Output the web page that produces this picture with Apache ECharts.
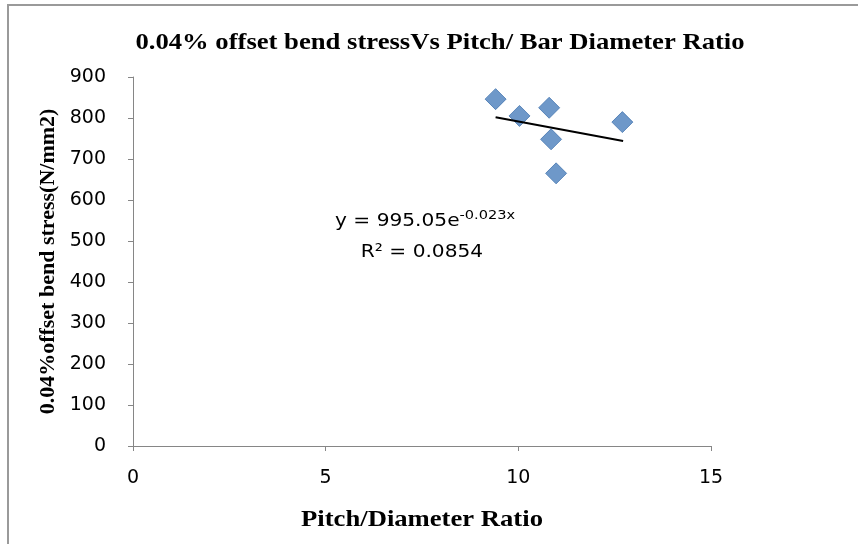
<!DOCTYPE html>
<html>
<head>
<meta charset="utf-8">
<script src="https://cdn.jsdelivr.net/npm/echarts@6/dist/echarts.min.js"></script>
<style>html,body{margin:0;padding:0;background:#fff}#c{width:858px;height:544px}</style>
</head>
<body>
<div id="c"></div>
<script>
const pitchRatio = [9.41, 10.03, 10.80, 10.85, 10.98, 12.70];
const bendStress = [846, 805, 825, 748, 665, 790];
const trendX = [9.41, 12.72];
const trendY = [801.7, 743.9];
const xTicks = [0, 5, 10, 15];
const yTicks = [0, 100, 200, 300, 400, 500, 600, 700, 800, 900];

const chart = echarts.init(document.getElementById('c'), null, {renderer: 'canvas'});
const axisCol = '#868686';
const labelFont = {fontFamily: 'DejaVu Sans', fontSize: 19, color: '#000'};
const serifBold = {fontFamily: 'Liberation Serif', fontWeight: 'bold', fill: '#000'};
chart.setOption({
  animation: false,
  backgroundColor: '#fff',
  grid: {left: 133, right: 147, top: 77, bottom: 98},
  xAxis: {
    type: 'value', min: xTicks[0], max: xTicks[xTicks.length-1], interval: 5,
    axisLine: {show: true, lineStyle: {color: axisCol, width: 1}},
    axisTick: {show: true, length: 5, lineStyle: {color: axisCol}},
    axisLabel: Object.assign({margin: 23}, labelFont),
    splitLine: {show: false}
  },
  yAxis: {
    type: 'value', min: yTicks[0], max: yTicks[yTicks.length-1], interval: 100,
    name: '0.04%offset bend stress(N/mm2)', nameLocation: 'middle', nameGap: 74,
    nameTextStyle: {fontFamily: 'Liberation Serif', fontWeight: 'bold', fontSize: 22, color: '#000'},
    axisLine: {show: true, lineStyle: {color: axisCol, width: 1}},
    axisTick: {show: true, length: 5, lineStyle: {color: axisCol}},
    axisLabel: Object.assign({margin: 27}, labelFont),
    splitLine: {show: false}
  },
  series: [
    {
      type: 'scatter', symbol: 'diamond', symbolSize: [21, 21],
      itemStyle: {color: '#4A7EBB', borderColor: '#4677B0', borderWidth: 1},
      data: pitchRatio.map((x, i) => [x, bendStress[i]]),
      z: 2
    },
    {
      type: 'line', showSymbol: false, symbol: 'none',
      lineStyle: {color: '#000', width: 2},
      data: trendX.map((x, i) => [x, trendY[i]]),
      z: 3
    }
  ],
  graphic: [
    {type: 'rect', shape: {x: 8, y: 5, width: 900, height: 600}, style: {fill: 'none', stroke: '#9a9a9a', lineWidth: 2}, silent: true},
    {type: 'text', x: 440, y: 43, scaleX: 1.11, style: Object.assign({
      text: '0.04% offset bend stressVs Pitch/ Bar Diameter Ratio', fontSize: 24,
      textAlign: 'center', textVerticalAlign: 'middle'}, serifBold)},
    {type: 'text', x: 422, y: 520, scaleX: 1.11, style: Object.assign({
      text: 'Pitch/Diameter Ratio', fontSize: 24,
      textAlign: 'center', textVerticalAlign: 'middle'}, serifBold)},
    {type: 'text', x: 335, y: 209, scaleX: 1.12, style: {
      rich: {
        b: {fontFamily: 'DejaVu Sans', fontSize: 18, fill: '#000', lineHeight: 24},
        s: {fontFamily: 'DejaVu Sans', fontSize: 13, fill: '#000', verticalAlign: 'top', lineHeight: 24, padding: [0,0,9,0]}
      },
      text: '{b|y = 995.05e}{s|-0.023x}'
    }},
    {type: 'text', x: 422, y: 252, scaleX: 1.12, style: {
      text: 'R² = 0.0854', fontFamily: 'DejaVu Sans', fontSize: 18, fill: '#000',
      textAlign: 'center', textVerticalAlign: 'middle'
    }}
  ]
});
</script>
</body>
</html>
